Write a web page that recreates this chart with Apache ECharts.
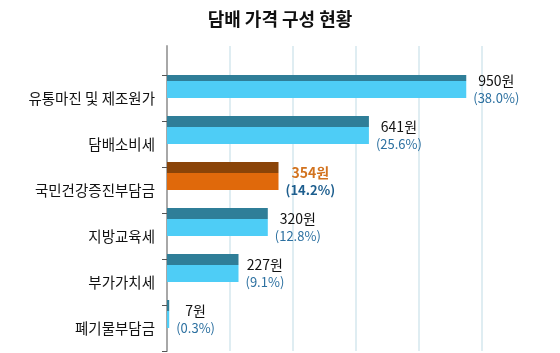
<!DOCTYPE html>
<html>
<head>
<meta charset="utf-8">
<script src="https://cdn.jsdelivr.net/npm/echarts@6/dist/echarts.min.js"></script>
<style>html,body{margin:0;padding:0;background:#fff}#c{width:560px;height:353px}</style>
</head>
<body>
<div id="c"></div>
<script>
const categories = ['유통마진 및 제조원가', '담배소비세', '국민건강증진부담금', '지방교육세', '부가가치세', '폐기물부담금'];
const values = [950, 641, 354, 320, 227, 7];
const percents = ['38.0', '25.6', '14.2', '12.8', '9.1', '0.3'];
const highlightIndex = 2;
const xTicks = { min: 0, max: 1000, interval: 200 };

const FONT = '"Noto Sans CJK KR", sans-serif';
const darkColor = i => i === highlightIndex ? '#8A4408' : '#2F7E98';
const lightColor = i => i === highlightIndex ? '#E0690B' : '#4ECDF6';

const chart = echarts.init(document.getElementById('c'));
chart.setOption({
  animation: false,
  title: {
    text: '담배 가격 구성 현황', left: 'center', top: 5,
    textStyle: { fontFamily: FONT, fontSize: 18, fontWeight: 'bold', color: '#111' }
  },
  grid: [
    { left: 167, right: 78, top: 46, bottom: 2 },
    { left: 167, right: 78, top: 75, bottom: 2 }
  ],
  xAxis: [
    { gridIndex: 0, type: 'value', min: xTicks.min, max: xTicks.max, interval: xTicks.interval,
      axisLine: { show: false }, axisTick: { show: false }, axisLabel: { show: false },
      splitLine: { show: true, lineStyle: { color: '#DFEDF2', width: 2 } } },
    { gridIndex: 1, type: 'value', min: xTicks.min, max: xTicks.max, interval: xTicks.interval,
      show: false }
  ],
  yAxis: [
    { gridIndex: 0, type: 'value', axisLine: { show: true, lineStyle: { color: '#A8A8A8', width: 2 } },
      axisTick: { show: false }, axisLabel: { show: false }, splitLine: { show: false } },
    { gridIndex: 1, type: 'category', inverse: true, data: categories,
      axisLine: { show: false },
      axisTick: { show: true, length: 5, lineStyle: { color: '#555' } },
      axisLabel: { fontFamily: FONT, fontSize: 14.5, color: '#111', margin: 12 } }
  ],
  series: [
    { type: 'bar', xAxisIndex: 1, yAxisIndex: 1, barWidth: 11, barGap: 0,
      data: values.map((v, i) => ({ value: v, itemStyle: { color: darkColor(i) } })) },
    { type: 'bar', xAxisIndex: 1, yAxisIndex: 1, barWidth: 17, barGap: 0,
      data: values.map((v, i) => ({ value: v, itemStyle: { color: lightColor(i) } })),
      label: {
        show: true, position: 'right', distance: 7,
        formatter: p => p.dataIndex === highlightIndex
          ? '{vh|' + values[p.dataIndex] + '원}\n{ph|(' + percents[p.dataIndex] + '%)}'
          : '{v|' + values[p.dataIndex] + '원}\n{p|(' + percents[p.dataIndex] + '%)}',
        rich: {
          v: { fontFamily: FONT, fontSize: 14, color: '#111', align: 'center', lineHeight: 17 },
          p: { fontFamily: FONT, fontSize: 13, color: '#2C70A0', align: 'center', lineHeight: 17 },
          vh: { fontFamily: FONT, fontSize: 14, color: '#D2731F', fontWeight: 'bold', align: 'center', lineHeight: 17 },
          ph: { fontFamily: FONT, fontSize: 13, color: '#1D5E8E', fontWeight: 'bold', align: 'center', lineHeight: 17 }
        }
      } },
    { type: 'bar', xAxisIndex: 1, yAxisIndex: 1, barWidth: 28, barGap: 0, silent: true,
      data: values.map(v => ({ value: v, itemStyle: { color: 'rgba(0,0,0,0)' } })) }
  ]
});
</script>
</body>
</html>
